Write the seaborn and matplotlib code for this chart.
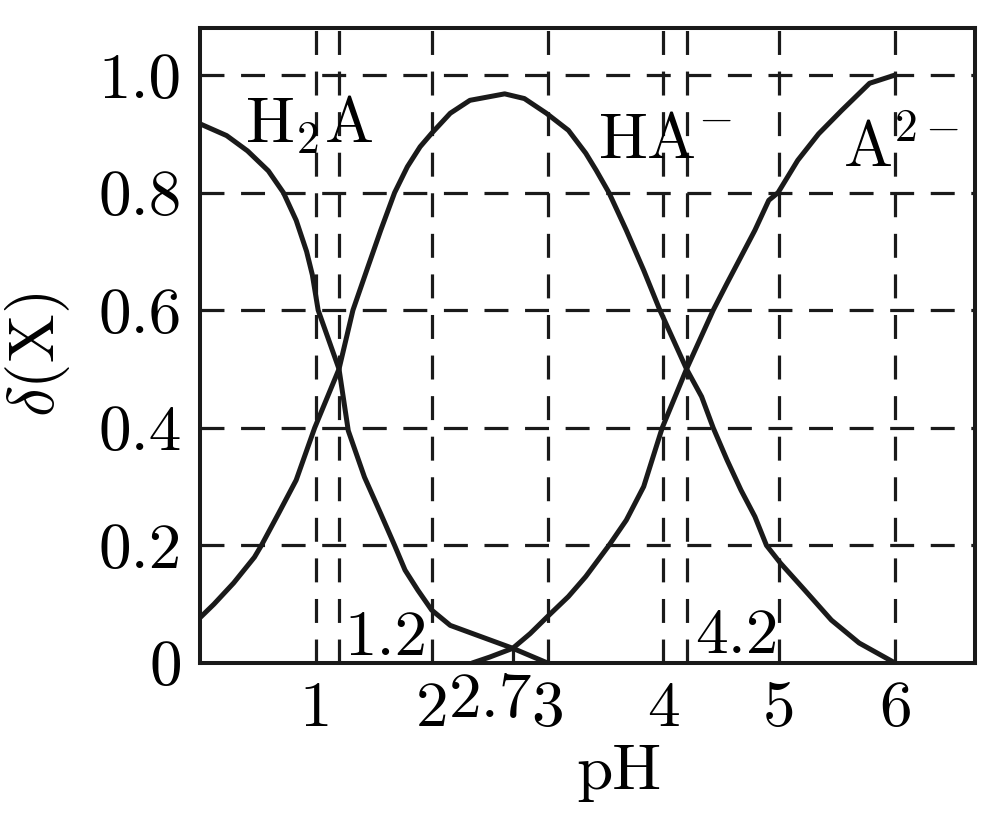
import matplotlib
matplotlib.use("Agg")
import matplotlib.pyplot as plt
import matplotlib.transforms as mtransforms
import numpy as np
import pandas as pd
import seaborn as sns

# distribution fractions
ph_h2a = [0, 0.23, 0.41, 0.59, 0.72, 0.83, 0.92, 0.97, 1.02, 1.2, 1.28, 1.42,
          1.56, 1.68, 1.77, 1.88, 2.0, 2.16, 2.7, 3.0]
d_h2a = [0.917, 0.897, 0.871, 0.837, 0.80, 0.753, 0.70, 0.66, 0.60, 0.50, 0.395,
         0.316, 0.254, 0.20, 0.158, 0.124, 0.09, 0.064, 0.025, 0.0]

ph_ha = [0, 0.12, 0.29, 0.47, 0.53, 0.68, 0.83, 0.99, 1.2, 1.32, 1.45, 1.56, 1.68,
         1.79, 1.9, 2.0, 2.16, 2.33, 2.63, 2.8, 2.99, 3.18, 3.33, 3.42, 3.53, 3.68,
         3.83, 3.97, 4.2, 4.33, 4.43, 4.55, 4.67, 4.79, 4.89, 5.01, 5.22, 5.45,
         5.69, 6.0]
d_ha = [0.077, 0.10, 0.136, 0.18, 0.20, 0.255, 0.311, 0.40, 0.50, 0.60, 0.674,
        0.736, 0.80, 0.844, 0.878, 0.901, 0.935, 0.957, 0.968, 0.96, 0.935, 0.906,
        0.867, 0.838, 0.80, 0.736, 0.668, 0.60, 0.50, 0.453, 0.40, 0.345, 0.294,
        0.249, 0.20, 0.17, 0.124, 0.073, 0.034, 0.0]

ph_a = [2.35, 2.5, 2.7, 2.85, 3.0, 3.18, 3.33, 3.53, 3.68, 3.83, 3.99, 4.2, 4.43,
        4.55, 4.67, 4.79, 4.91, 4.99, 5.16, 5.34, 5.54, 5.78, 6.0]
d_a = [0.0, 0.01, 0.025, 0.05, 0.079, 0.113, 0.147, 0.20, 0.243, 0.30, 0.40, 0.50,
       0.60, 0.646, 0.691, 0.736, 0.787, 0.80, 0.855, 0.90, 0.94, 0.986, 1.0]

x_ticks = [1, 2, 3, 4, 5, 6]
y_ticks = [0, 0.2, 0.4, 0.6, 0.8, 1.0]
y_ticklabels = ["0", "0.2", "0.4", "0.6", "0.8", "1.0"]
grid_x = [1, 1.2, 2, 3, 4, 4.2, 5, 6]
grid_y = [0.2, 0.4, 0.6, 0.8, 1.0]

df = pd.concat([
    pd.DataFrame({"pH": ph_h2a, "delta": d_h2a, "species": "H2A"}),
    pd.DataFrame({"pH": ph_ha, "delta": d_ha, "species": "HA-"}),
    pd.DataFrame({"pH": ph_a, "delta": d_a, "species": "A2-"}),
])

sns.set_theme(style="white")
plt.rcParams["font.family"] = ["cmr10", "DejaVu Serif"]
plt.rcParams["mathtext.fontset"] = "cm"
plt.rcParams["axes.unicode_minus"] = False
for key in ["text.color", "axes.labelcolor", "xtick.color", "ytick.color",
            "axes.edgecolor"]:
    plt.rcParams[key] = "black"

fs = 47
fig = plt.figure(figsize=(9.92, 8.22), dpi=100)
ax = fig.add_axes([200 / 992, 1 - 663 / 822, 775 / 992, 635 / 822])

dash_kw = dict(color="k", lw=2.3, dashes=(7.5, 5.2), zorder=1)
for y in grid_y:
    ax.axhline(y, **dash_kw)
for x in grid_x:
    ax.axvline(x, **dash_kw)

sns.lineplot(data=df, x="pH", y="delta", hue="species", palette=["k", "k", "k"],
             legend=False, lw=3.6, ax=ax, zorder=3, solid_joinstyle="round",
             solid_capstyle="round")
# short solid drop line at the H2A / A2- crossing
ax.vlines(2.7, 0, 0.025, color="k", lw=2.3, zorder=3)

ax.set_xlim(0, 6.69)
ax.set_ylim(0, 1.08)
ax.set_xticks(x_ticks)
ax.set_xticklabels([str(v) for v in x_ticks])
ax.set_yticks(y_ticks)
ax.set_yticklabels(y_ticklabels)
ax.tick_params(axis="both", length=0, labelsize=fs, colors="black")
ax.tick_params(axis="x", pad=13)
ax.tick_params(axis="y", pad=13)

for s in ax.spines.values():
    s.set_linewidth(2.9)
    s.set_color("k")

ax.set_xlabel("pH", fontsize=fs)
ax.xaxis.set_label_coords(0.54, -0.198)
ax.xaxis.label.set_va("baseline")
ax.set_ylabel(r"$\delta(\mathrm{X})$", fontsize=fs)
ax.yaxis.set_label_coords(-0.21, 0.485)
ax.yaxis.label.set_va("center")

ax.text(0.058, 0.820, r"$\mathrm{H_2A}$", transform=ax.transAxes, fontsize=fs,
        va="baseline", ha="left")
ax.text(0.514, 0.795, r"$\mathrm{HA^{-}}$", transform=ax.transAxes, fontsize=fs,
        va="baseline", ha="left")
ax.text(0.830, 0.781, r"$\mathrm{A^{2-}}$", transform=ax.transAxes, fontsize=fs,
        va="baseline", ha="left")

ax.annotate("1.2", (1.2, 0.013), xytext=(4, 0), textcoords="offset points",
            fontsize=fs, va="baseline", ha="left")
ax.annotate("4.2", (4.2, 0.017), xytext=(6, 0), textcoords="offset points",
            fontsize=fs, va="baseline", ha="left")
trans = mtransforms.blended_transform_factory(ax.transData, ax.transAxes)
ax.annotate("2.7", (2.7, -0.085), xycoords=trans, xytext=(-16, 0),
            textcoords="offset points", fontsize=fs, va="baseline", ha="center")

fig.savefig("out.png", dpi=100)
